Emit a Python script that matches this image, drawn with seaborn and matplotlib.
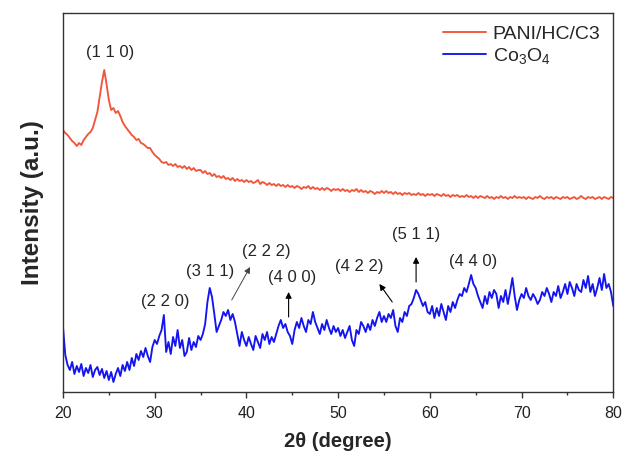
import numpy as np
import pandas as pd
import matplotlib
matplotlib.use("Agg")
import matplotlib.pyplot as plt
import seaborn as sns

# 2-theta sampling grid (degrees)
two_theta = np.round(np.arange(20.0, 80.0001, 0.25), 2)

# PANI/HC/C3 diffractogram (a.u.)
pani_hc_c3 = [
    262, 259, 257, 254, 251, 249, 246, 249, 247, 252, 255, 258, 260, 264, 272, 280, 295, 310, 322, 308,
    292, 282, 284, 279, 281, 276, 270, 266, 263, 260, 257, 255, 252, 253, 249, 248, 246, 244, 244, 240,
    237, 235, 233, 230, 229, 230, 227, 228, 226, 228, 225, 226, 224, 226, 223, 225, 222, 224, 221, 222,
    222, 219, 221, 218, 219, 216, 218, 215, 216, 214, 216, 213, 214, 212, 214, 211, 213, 211, 212, 210,
    212, 210, 211, 209, 210, 212, 208, 210, 209, 207, 209, 207, 208, 206, 208, 206, 207, 205, 207, 205,
    206, 204, 206, 205, 203, 205, 204, 206, 203, 205, 203, 204, 202, 204, 202, 204, 203, 201, 203, 202,
    203, 201, 203, 201, 202, 200, 202, 201, 203, 200, 202, 200, 201, 199, 201, 200, 198, 200, 199, 201,
    199, 201, 199, 200, 198, 200, 198, 199, 197, 199, 198, 199, 197, 198, 197, 199, 197, 198, 196, 198,
    197, 198, 196, 198, 197, 196, 198, 196, 197, 195, 197, 196, 197, 195, 196, 195, 197, 195, 196, 194,
    196, 194, 196, 195, 194, 196, 194, 195, 193, 195, 194, 196, 194, 195, 193, 195, 194, 196, 194, 195,
    194, 195, 193, 195, 194, 193, 195, 194, 196, 194, 193, 195, 194, 195, 193, 195, 194, 193, 195, 194,
    195, 193, 194, 195, 193, 194, 196, 194, 193, 195, 194, 195, 193, 194, 195, 193, 195, 194, 193, 195,
    194,
]

# Co3O4 diffractogram (a.u.)
co3o4 = [
    65, 37, 27, 22, 30, 18, 26, 20, 28, 16, 24, 19, 27, 15, 22, 25, 17, 23, 14, 21,
    12, 20, 10, 18, 24, 16, 27, 21, 30, 22, 34, 26, 38, 32, 41, 35, 44, 36, 30, 45,
    52, 48, 56, 62, 77, 40, 50, 38, 55, 46, 62, 44, 52, 36, 40, 54, 42, 50, 45, 56,
    52, 58, 68, 90, 104, 95, 78, 60, 66, 72, 80, 76, 82, 72, 78, 70, 58, 46, 60, 52,
    46, 55, 48, 42, 56, 50, 44, 58, 52, 60, 48, 55, 50, 58, 66, 72, 64, 68, 60, 56,
    48, 62, 70, 64, 74, 66, 60, 72, 68, 80, 70, 64, 58, 68, 62, 72, 64, 58, 66, 60,
    64, 56, 62, 54, 60, 66, 52, 46, 62, 58, 70, 66, 60, 68, 62, 72, 66, 74, 80, 70,
    76, 70, 78, 74, 82, 66, 60, 74, 70, 80, 76, 86, 88, 94, 102, 98, 92, 86, 90, 80,
    78, 86, 74, 84, 76, 88, 80, 72, 86, 80, 90, 84, 92, 98, 96, 104, 100, 108, 117, 108,
    104, 96, 90, 84, 96, 88, 100, 94, 102, 98, 84, 96, 90, 102, 88, 100, 114, 96, 82, 92,
    98, 94, 104, 96, 92, 98, 94, 88, 92, 100, 96, 104, 98, 90, 100, 96, 106, 94, 100, 108,
    98, 110, 104, 96, 108, 102, 100, 112, 104, 116, 100, 108, 96, 104, 114, 102, 118, 104, 108, 100,
    86,
]

series_names = ["PANI/HC/C3", "Co$_3$O$_4$"]
series_colors = ["#F2553A", "#1414F0"]

sns.set_theme(style="ticks")
plt.rcParams["font.family"] = ["Liberation Sans", "DejaVu Sans"]
plt.rcParams["mathtext.fontset"] = "custom"
plt.rcParams["mathtext.rm"] = "Liberation Sans"
plt.rcParams["mathtext.it"] = "Liberation Sans:italic"
plt.rcParams["mathtext.bf"] = "Liberation Sans:bold"

df = pd.concat([
    pd.DataFrame({"two_theta": two_theta, "intensity": pani_hc_c3, "sample": series_names[0]}),
    pd.DataFrame({"two_theta": two_theta, "intensity": co3o4, "sample": series_names[1]}),
], ignore_index=True)

fig = plt.figure(figsize=(6.23, 4.55), dpi=100)
ax = fig.add_axes([0.1011, 0.1385, 0.8833, 0.8329])

sns.lineplot(data=df, x="two_theta", y="intensity", hue="sample",
             palette=dict(zip(series_names, series_colors)),
             estimator=None, sort=False, linewidth=1.35, ax=ax)

ax.set_xlim(20, 80)
ax.set_ylim(0, 379)
ax.set_xticks([20, 30, 40, 50, 60, 70, 80])
ax.set_xticks([25, 35, 45, 55, 65, 75], minor=True)
ax.set_yticks([])
ax.tick_params(axis="x", which="major", direction="out", length=4, width=1.0,
               color="#333333", labelsize=11.5, labelcolor="#222222", pad=6)
ax.tick_params(axis="x", which="minor", direction="out", length=2.5, width=1.0,
               color="#333333")
for sp in ax.spines.values():
    sp.set_color("#333333")
    sp.set_linewidth(1.0)

ax.set_xlabel("2θ (degree)", fontsize=14.5, fontweight="bold", labelpad=8)
ax.set_ylabel("Intensity (a.u.)", fontsize=17.5, fontweight="bold", labelpad=14)

handles, labels = ax.get_legend_handles_labels()
ax.legend(handles, labels, loc="upper left", bbox_to_anchor=(0.711, 0.945),
          bbox_transform=fig.transFigure, frameon=False, fontsize=14,
          handlelength=2.2, handletextpad=0.35, labelspacing=0.15,
          borderpad=0, borderaxespad=0)

# Miller index labels
fs = 12
ax.text(25.1, 340, "(1 1 0)", fontsize=fs, ha="center", va="center")
ax.text(31.1, 90, "(2 2 0)", fontsize=fs, ha="center", va="center")
ax.text(36.0, 120, "(3 1 1)", fontsize=fs, ha="center", va="center")
ax.text(42.2, 140, "(2 2 2)", fontsize=fs, ha="center", va="center")
ax.text(45.0, 114, "(4 0 0)", fontsize=fs, ha="center", va="center")
ax.text(52.3, 125, "(4 2 2)", fontsize=fs, ha="center", va="center")
ax.text(58.5, 157, "(5 1 1)", fontsize=fs, ha="center", va="center")
ax.text(64.7, 130, "(4 4 0)", fontsize=fs, ha="center", va="center")

arrow = dict(arrowstyle="-|>", color="black", lw=0.8, mutation_scale=9,
             shrinkA=0, shrinkB=0)
ax.annotate("", xy=(40.4, 125), xytext=(38.4, 92),
            arrowprops=dict(arrow, color="#444444", lw=0.7))
ax.annotate("", xy=(44.6, 100), xytext=(44.6, 75), arrowprops=arrow)
ax.annotate("", xy=(54.5, 108), xytext=(55.9, 90), arrowprops=arrow)
ax.annotate("", xy=(58.5, 135), xytext=(58.5, 110), arrowprops=arrow)

fig.savefig("out.png", dpi=100)
